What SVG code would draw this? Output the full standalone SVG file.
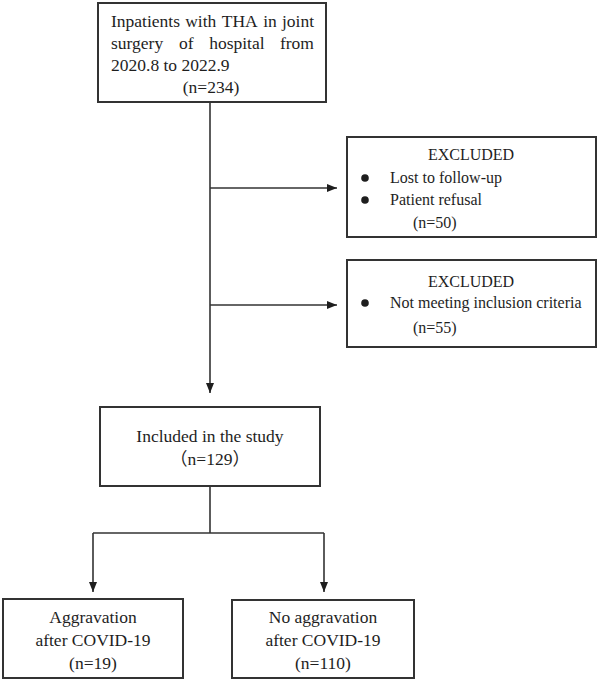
<svg xmlns="http://www.w3.org/2000/svg" width="598" height="680" viewBox="0 0 598 680">
<style>
.box{fill:#fff;stroke:#333;stroke-width:2}
.ln{fill:none;stroke:#333;stroke-width:1.6}
text{font-family:"Liberation Serif","Times New Roman","Noto Sans CJK SC",serif;font-size:16px;fill:#1e1e1e}
.big{font-size:17.5px}
.c{text-anchor:middle}
.dot{fill:#1e1e1e}
</style>
<defs>
<marker id="ah" viewBox="0 0 10 10" refX="10" refY="5" markerWidth="10" markerHeight="10" markerUnits="userSpaceOnUse" orient="auto">
<path d="M0,1 L10,5 L0,9 Z" fill="#1e1e1e"/>
</marker>
</defs>
<rect width="598" height="680" fill="#fff"/>
<g id="connectors">
<line class="ln" x1="210" y1="102" x2="210" y2="393" marker-end="url(#ah)"/>
<line class="ln" x1="210" y1="188" x2="337" y2="188" marker-end="url(#ah)"/>
<line class="ln" x1="210" y1="305" x2="337" y2="305" marker-end="url(#ah)"/>
<polyline class="ln" points="210,486 210,533"/>
<polyline class="ln" points="93,533 324,533"/>
<line class="ln" x1="93" y1="533" x2="93" y2="592" marker-end="url(#ah)"/>
<line class="ln" x1="324" y1="533" x2="324" y2="592" marker-end="url(#ah)"/>
</g>
<g id="n_inpatients">
<rect class="box" x="98" y="3" width="228" height="99"/>
<text class="big" y="27"><tspan x="111">Inpatients</tspan><tspan x="185.2">with</tspan><tspan x="221.7">THA</tspan><tspan x="263.2">in</tspan><tspan x="314" text-anchor="end">joint</tspan></text>
<text class="big" y="49"><tspan x="111">surgery</tspan><tspan x="179">of</tspan><tspan x="209.2">hospital</tspan><tspan x="314" text-anchor="end">from</tspan></text>
<text class="big" x="111" y="71">2020.8 to 2022.9</text>
<text class="big c" x="211" y="93">(n=234)</text>
</g>
<g id="n_excluded1">
<rect class="box" x="347" y="137" width="249" height="100"/>
<text class="c" x="471" y="160">EXCLUDED</text>
<circle class="dot" cx="365" cy="178" r="3.8"/>
<text x="390" y="183">Lost to follow-up</text>
<circle class="dot" cx="365" cy="200" r="3.8"/>
<text x="390" y="205">Patient refusal</text>
<text x="413" y="228">(n=50)</text>
</g>
<g id="n_excluded2">
<rect class="box" x="347" y="260" width="249" height="87"/>
<text class="c" x="471" y="287">EXCLUDED</text>
<circle class="dot" cx="365" cy="303" r="3.8"/>
<text x="390" y="308">Not meeting inclusion criteria</text>
<text x="413" y="333">(n=55)</text>
</g>
<g id="n_included">
<rect class="box" x="100" y="407" width="220" height="79"/>
<text class="big c" x="210" y="442">Included in the study</text>
<text class="big c" x="210" y="465">（n=129）</text>
</g>
<g id="n_aggravation">
<rect class="box" x="3" y="599" width="180" height="79"/>
<text class="big c" x="93" y="623">Aggravation</text>
<text class="big c" x="93" y="646">after COVID-19</text>
<text class="big c" x="93" y="669">(n=19)</text>
</g>
<g id="n_noaggravation">
<rect class="box" x="232" y="600" width="182" height="78"/>
<text class="big c" x="323" y="623">No aggravation</text>
<text class="big c" x="323" y="646">after COVID-19</text>
<text class="big c" x="323" y="669">(n=110)</text>
</g>
</svg>
